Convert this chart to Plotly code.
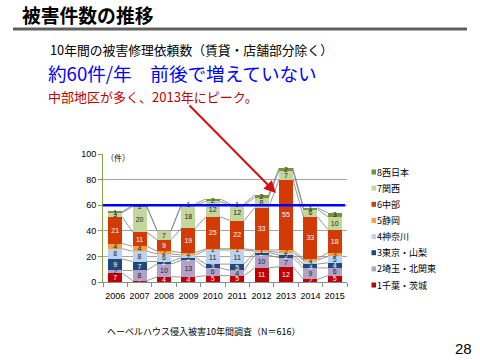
import plotly.graph_objects as go

years = [2006, 2007, 2008, 2009, 2010, 2011, 2012, 2013, 2014, 2015]
series_names = ["1千葉・茨城", "2埼玉・北関東", "3東京・山梨", "4神奈川", "5静岡", "6中部", "7関西", "8西日本"]
s1 = [7, 1, 4, 4, 5, 5, 11, 12, 2, 5]
s2 = [2, 8, 10, 13, 6, 4, 10, 7, 9, 6]
s3 = [9, 7, 2, 2, 3, 5, 2, 2, 3, 4]
s4 = [8, 8, 6, 2, 11, 11, 1, 2, 3, 5]
s5 = [4, 4, 2, 2, 1, 1, 1, 2, 1, 3]
s6 = [21, 11, 9, 19, 25, 22, 33, 55, 33, 18]
s7 = [3, 20, 7, 18, 12, 12, 8, 7, 6, 10]
s8 = [1, 1, 0, 1, 2, 1, 2, 2, 1, 3]
series_values = [s1, s2, s3, s4, s5, s6, s7, s8]
avg_line = 60

colors = ["#C00000", "#B3A2C7", "#1F497D", "#B9D3EE", "#F7A23C", "#D23A06", "#C3D69B", "#77933C"]
label_colors = ["white", "#222222", "white", "#222222", "#222222", "white", "#222222", "#222222"]

W, H = 480, 360
L, R, T, B = 103, 347, 154, 282
BW = 0.57

def px(x):
    return (x - L) / (R - L)

def py(y):
    return (B - y) / (B - T)

fig = go.Figure()

# series lines
cum = [0] * len(years)
for k, vals in enumerate(series_values):
    cum = [c + v for c, v in zip(cum, vals)]
    xs, ys = [], []
    for i in range(len(years) - 1):
        xs += [years[i] + BW / 2, years[i + 1] - BW / 2, None]
        ys += [cum[i], cum[i + 1], None]
    fig.add_trace(go.Scatter(x=xs, y=ys, mode="lines", line=dict(color="#7F7F7F", width=0.8),
                             showlegend=False, hoverinfo="skip"))

for k, vals in enumerate(series_values):
    fig.add_trace(go.Bar(
        x=years, y=vals, name=series_names[k], width=BW, showlegend=False,
        marker=dict(color=colors[k], line=dict(width=0)),
        text=[str(v) if v > 0 else "" for v in vals],
        textposition="inside", insidetextanchor="middle", textangle=0,
        textfont=dict(size=7, color=label_colors[k], family="Liberation Sans"),
    ))

fig.update_layout(
    width=W, height=H, barmode="stack",
    margin=dict(l=L, r=W - R, t=T, b=H - B),
    paper_bgcolor="white", plot_bgcolor="white",
    uniformtext=dict(minsize=7, mode="show"),
    showlegend=False,
    font=dict(family="Liberation Sans", color="black"),
)

fig.update_xaxes(range=[2005.5, 2015.5], tickmode="array", tickvals=years, ticktext=[str(y) for y in years],
                 ticks="", showgrid=False, showline=True, linecolor="#8C8C8C", linewidth=1,
                 ticklabelstandoff=5,
                 tickfont=dict(size=9, family="Liberation Sans", color="black"),
                 minor=dict(tickmode="array", tickvals=[y + 0.5 for y in [2005] + years], ticks="outside",
                            ticklen=4, tickcolor="#8C8C8C", showgrid=False))
fig.update_yaxes(range=[0, 100], tickvals=[0, 20, 40, 60, 80, 100], showgrid=True, gridcolor="#A6A6A6",
                 gridwidth=1, showline=True, linecolor="#86A44A", linewidth=1, ticks="outside",
                 ticklen=4, tickcolor="#86A44A", zeroline=False,
                 tickfont=dict(size=9, family="Liberation Sans", color="black"))

fig.add_shape(type="line", xref="x", yref="y", x0=2005.18, x1=2015.42, y0=avg_line, y1=avg_line,
              line=dict(color="#0000FF", width=2.5))

# header rule
fig.add_shape(type="line", xref="paper", yref="paper", x0=px(13), x1=px(467), y0=py(29), y1=py(29),
              line=dict(color="#606060", width=3))

def text(x, y, s, size, color="black", bold=False, anchor="left", family="Noto Sans CJK JP"):
    fig.add_annotation(xref="paper", yref="paper", x=px(x), y=py(y), text=("<b>%s</b>" % s) if bold else s,
                       showarrow=False, xanchor=anchor, yanchor="middle",
                       font=dict(size=size, color=color, family=family))

# legend (drawn manually, top = series 8)
for k in range(len(series_names)):
    yc = 285 - k * 16.14
    fig.add_shape(type="rect", xref="paper", yref="paper", x0=px(371.5), x1=px(376),
                  y0=py(yc + 2.5), y1=py(yc - 2.5), fillcolor=colors[k], line=dict(width=0))
    text(374.5, yc, series_names[k], 9)

text(20, 14.5, "被害件数の推移", 18.8, bold=True)
text(48, 49, "10年間の被害修理依頼数（賃貸・店舗部分除く）", 12.8)
text(46, 72, "約60件/年　前後で増えていない", 18.6, color="#0000FF")
text(46, 96, "中部地区が多く、2013年にピーク。", 13, color="#C00000")
text(104, 157, "（件）", 8)
text(105, 331, "ヘーベルハウス侵入被害10年間調査（N＝616）", 9)
text(474, 348, "28", 15, anchor="right", family="Liberation Sans")

fig.add_annotation(xref="paper", yref="paper", x=px(276), y=py(193), ax=-88, ay=-89,
                   axref="pixel", ayref="pixel", showarrow=True, arrowhead=2, arrowsize=1.2,
                   arrowwidth=2, arrowcolor="#D41010", text="")

fig.write_html("out.html", config={"displayModeBar": False},
               post_script="document.body.style.margin='0';")
